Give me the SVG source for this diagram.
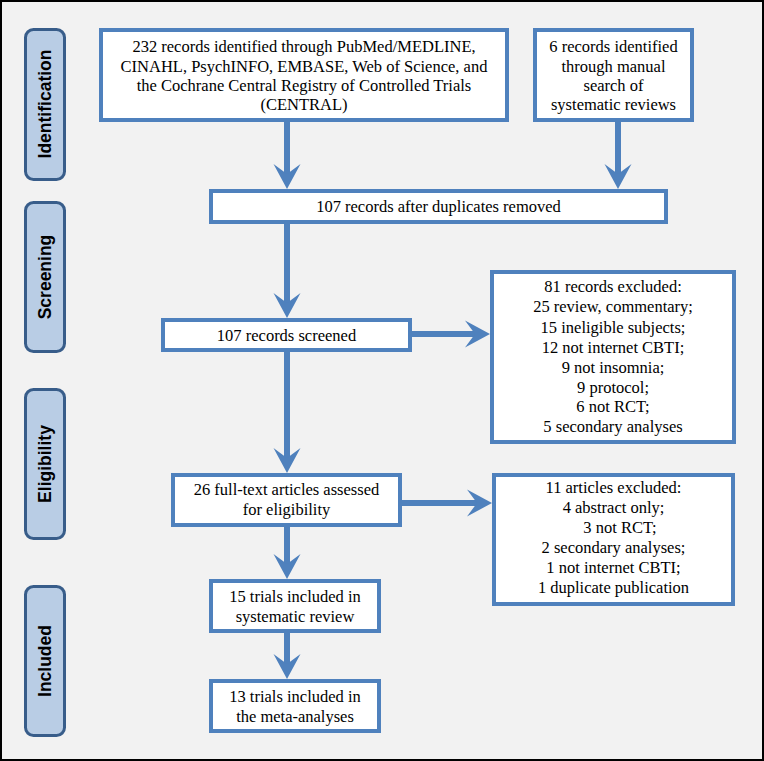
<svg xmlns="http://www.w3.org/2000/svg" width="764" height="761" viewBox="0 0 764 761">
<defs>
<style>
.box{fill:#ffffff;stroke:#4f81bd;stroke-width:4}
.phase{fill:#b9cde5;stroke:#385d8a;stroke-width:3}
.t{font-family:'Liberation Serif','DejaVu Serif','Noto Serif',serif;font-size:16.5px;fill:#000;text-anchor:middle}
.p{font-family:'Liberation Sans',Arial,sans-serif;font-weight:bold;font-size:17.5px;fill:#000;text-anchor:middle}
.sh{stroke:#4f81bd;stroke-width:6;fill:none}
.hd{fill:#4f81bd}
</style>
</defs>
<rect x="1" y="1" width="762" height="759" fill="#f2f2f2" stroke="#000" stroke-width="2"/>

<g id="phase-identification"><rect class="phase" x="25.5" y="29.5" width="39" height="150" rx="8"/><text class="p" transform="translate(51,104) rotate(-90)">Identification</text></g>
<g id="phase-screening"><rect class="phase" x="25.5" y="202.5" width="39" height="149" rx="8"/><text class="p" transform="translate(51,277) rotate(-90)">Screening</text></g>
<g id="phase-eligibility"><rect class="phase" x="25.5" y="389.5" width="39" height="149" rx="8"/><text class="p" transform="translate(51,464) rotate(-90)">Eligibility</text></g>
<g id="phase-included"><rect class="phase" x="25.5" y="586.5" width="39" height="149" rx="8"/><text class="p" transform="translate(51,661) rotate(-90)">Included</text></g>

<g id="connectors">
<line class="sh" x1="287" y1="122" x2="287" y2="175"/><path class="hd" d="M287,189 L273.5,164 L287,174 L300.5,164 Z"/>
<line class="sh" x1="618" y1="122" x2="618" y2="175"/><path class="hd" d="M618,189 L604.5,164 L618,174 L631.5,164 Z"/>
<line class="sh" x1="287" y1="224" x2="287" y2="304"/><path class="hd" d="M287,318 L273.5,293 L287,303 L300.5,293 Z"/>
<line class="sh" x1="412" y1="334" x2="476" y2="334"/><path class="hd" d="M490,334 L465,320.5 L475,334 L465,347.5 Z"/>
<line class="sh" x1="287" y1="352" x2="287" y2="459"/><path class="hd" d="M287,473 L273.5,448 L287,458 L300.5,448 Z"/>
<line class="sh" x1="402" y1="503" x2="478" y2="503"/><path class="hd" d="M492,503 L467,489.5 L477,503 L467,516.5 Z"/>
<line class="sh" x1="287" y1="527" x2="287" y2="565"/><path class="hd" d="M287,579 L273.5,554 L287,564 L300.5,554 Z"/>
<line class="sh" x1="287" y1="633" x2="287" y2="665"/><path class="hd" d="M287,679 L273.5,654 L287,664 L300.5,654 Z"/>
</g>

<g id="n1"><rect class="box" x="101" y="30" width="406" height="90"/>
<text class="t" x="304" y="52">232 records identified through PubMed/MEDLINE,</text>
<text class="t" x="304" y="72">CINAHL, PsychINFO, EMBASE, Web of Science, and</text>
<text class="t" x="304" y="91">the Cochrane Central Registry of Controlled Trials</text>
<text class="t" x="304" y="110">(CENTRAL)</text></g>

<g id="n2"><rect class="box" x="535" y="30" width="157" height="90"/>
<text class="t" x="613.5" y="52">6 records identified</text>
<text class="t" x="613.5" y="72">through manual</text>
<text class="t" x="613.5" y="91">search of</text>
<text class="t" x="613.5" y="110">systematic reviews</text></g>

<g id="n3"><rect class="box" x="211" y="191" width="455" height="31"/>
<text class="t" x="438.5" y="212">107 records after duplicates removed</text></g>

<g id="n4"><rect class="box" x="163" y="320" width="247" height="30"/>
<text class="t" x="286.5" y="341">107 records screened</text></g>

<g id="n5"><rect class="box" x="492" y="272" width="242" height="170"/>
<text class="t" x="613" y="292">81 records excluded:</text>
<text class="t" x="613" y="312">25 review, commentary;</text>
<text class="t" x="613" y="333">15 ineligible subjects;</text>
<text class="t" x="613" y="353">12 not internet CBTI;</text>
<text class="t" x="613" y="373">9 not insomnia;</text>
<text class="t" x="613" y="393">9 protocol;</text>
<text class="t" x="613" y="412">6 not RCT;</text>
<text class="t" x="613" y="432">5 secondary analyses</text></g>

<g id="n6"><rect class="box" x="173" y="475" width="227" height="50"/>
<text class="t" x="286.5" y="495">26 full-text articles assessed</text>
<text class="t" x="286.5" y="515">for eligibility</text></g>

<g id="n7"><rect class="box" x="494" y="475" width="239" height="129"/>
<text class="t" x="613.5" y="493">11 articles excluded:</text>
<text class="t" x="613.5" y="513">4 abstract only;</text>
<text class="t" x="620" y="533">3 not RCT;</text>
<text class="t" x="613.5" y="553">2 secondary analyses;</text>
<text class="t" x="613.5" y="573">1 not internet CBTI;</text>
<text class="t" x="613.5" y="593">1 duplicate publication</text></g>

<g id="n8"><rect class="box" x="211" y="581" width="168" height="50"/>
<text class="t" x="295" y="602">15 trials included in</text>
<text class="t" x="295" y="622">systematic review</text></g>

<g id="n9"><rect class="box" x="211" y="681" width="168" height="50"/>
<text class="t" x="295" y="702">13 trials included in</text>
<text class="t" x="295" y="722">the meta-analyses</text></g>
</svg>
